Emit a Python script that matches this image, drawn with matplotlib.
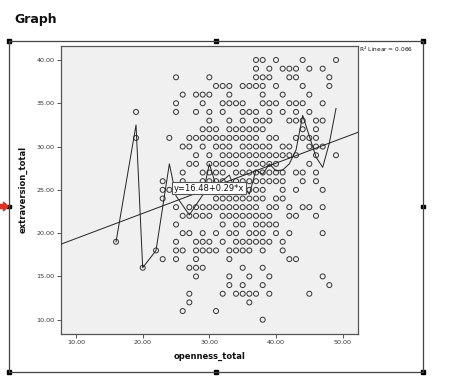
import matplotlib
matplotlib.use("Agg")
import matplotlib.pyplot as plt
from matplotlib.patches import Rectangle, Polygon

# ---- data: openness values observed at each extraversion level ----
e40 = [37, 38, 40, 44, 49]
e39 = [37, 39, 41, 42, 43, 45, 47]
e38 = [25, 30, 37, 38, 39, 42, 43, 48]
e37 = [31, 32, 33, 35, 36, 37, 38, 40, 44, 48]
e36 = [26, 28, 29, 30, 33, 38, 41, 45]
e35 = [25, 29, 32, 33, 34, 35, 38, 39, 40, 42, 43, 44, 47]
e34 = [19, 25, 28, 30, 32, 35, 36, 37, 39, 41, 43, 45]
e33 = [30, 33, 35, 37, 38, 39, 42, 43, 44, 46, 47]
e32 = [29, 30, 31, 33, 34, 35, 36, 37, 38, 44, 46]
e31 = [19, 24, 27, 28, 29, 30, 31, 32, 33, 34, 35, 36, 37, 39, 40, 43, 44, 45, 46]
e30 = [26, 27, 29, 31, 32, 33, 35, 36, 37, 38, 39, 41, 42, 45, 46, 47]
e29 = [28, 30, 32, 33, 34, 35, 36, 37, 38, 39, 40, 41, 42, 43, 46, 49]
e28 = [27, 28, 30, 31, 32, 33, 34, 36, 37, 38, 39, 40, 45]
e27 = [26, 29, 30, 31, 32, 34, 35, 36, 37, 38, 39, 40, 41, 43, 44, 46]
e26 = [23, 26, 29, 30, 31, 32, 34, 35, 36, 37, 38, 39, 40, 41, 44, 46]
e25 = [23, 24, 26, 28, 30, 32, 34, 36, 37, 38, 41, 43, 47]
e24 = [23, 31, 32, 33, 34, 35, 36, 37, 38, 40, 41]
e23 = [25, 27, 28, 29, 30, 31, 32, 33, 34, 35, 36, 37, 39, 40, 42, 44, 45, 47]
e22 = [26, 27, 28, 29, 30, 32, 33, 34, 35, 36, 37, 38, 39, 42, 43, 46]
e21 = [25, 32, 34, 35, 37, 38, 39, 40]
e20 = [26, 27, 29, 31, 33, 34, 36, 37, 38, 40, 42, 47]
e19 = [16, 25, 28, 29, 30, 32, 34, 35, 36, 37, 38, 39, 41]
e18 = [22, 25, 26, 28, 29, 30, 31, 33, 34, 35, 36, 38, 41]
e17 = [23, 25, 28, 33, 42, 43]
e16 = [20, 27, 28, 29, 35, 38]
e15 = [28, 33, 36, 39, 47]
e14 = [33, 35, 38, 48]
e13 = [27, 32, 34, 35, 36, 37, 39, 45]
e12 = [27, 36]
e11 = [26, 31]
e10 = [38]

rows = {40: e40, 39: e39, 38: e38, 37: e37, 36: e36, 35: e35, 34: e34, 33: e33,
        32: e32, 31: e31, 30: e30, 29: e29, 28: e28, 27: e27, 26: e26, 25: e25,
        24: e24, 23: e23, 22: e22, 21: e21, 20: e20, 19: e19, 18: e18, 17: e17,
        16: e16, 15: e15, 14: e14, 13: e13, 12: e12, 11: e11, 10: e10}
openness = [x for lvl, xs in rows.items() for x in xs]
extraversion = [lvl for lvl, xs in rows.items() for x in xs]

# interpolation (subgroup) line
fit_x = [16, 19, 20, 22, 24, 25, 27, 29, 30, 31, 33, 34, 35, 36, 37, 38, 39, 40, 41, 42, 43, 44, 46, 47, 48, 49]
fit_y = [19, 32.5, 16, 18, 28, 24.3, 22.1, 24.4, 28, 25.5, 26.7, 24.8, 25.5, 24.5, 27.3, 26.8, 28.0, 27.2, 27.3, 28.0, 29.6, 33.6, 28.8, 27.6, 30.4, 34.4]

intercept = 16.48
slope = 0.29
r2_text = "R$^2$ Linear = 0.066"
eq_text = "y=16.48+0.29*x"
x_ticks = [10, 20, 30, 40, 50]
y_ticks = [10, 15, 20, 25, 30, 35, 40]

W, H = 453, 391
fig = plt.figure(figsize=(W / 100, H / 100), dpi=100)
fig.patch.set_facecolor("white")

# overlay in pixel coordinates for frame decorations
ov = fig.add_axes([0, 0, 1, 1])
ov.set_xlim(0, W)
ov.set_ylim(H, 0)
ov.axis("off")
ov.text(14, 19, "Graph", fontsize=9, fontweight="bold", va="center", ha="left", color="#111111")
fc = "#444444"
ov.plot([9, 423, 423, 9, 9], [41, 41, 372, 372, 41], color=fc, lw=0.9)
for hx, hy in [(9, 41), (216, 41), (423, 41), (9, 206.5), (423, 206.5), (9, 372), (216, 372), (423, 372)]:
    ov.add_patch(Rectangle((hx - 1.7, hy - 1.7), 3.4, 3.4, color="black"))
ov.add_patch(Polygon([[0, 204.5], [3.5, 204.5], [3.5, 202], [8, 206.5], [3.5, 211], [3.5, 208.5], [0, 208.5]],
                     closed=True, color="#e03020"))
ov.text(359, 49.5, r2_text, fontsize=4.2, ha="left", va="center", color="#111111")

ax = fig.add_axes([60.7 / W, 1 - 334 / H, (358 - 60.7) / W, (334 - 45.7) / H])
ax.set_facecolor("#f0f0f0")
ax.set_xlim(7.7, 52.3)
ax.set_ylim(8.35, 41.65)
for s in ax.spines.values():
    s.set_color("#555555")
    s.set_linewidth(0.9)

ax.scatter(openness, extraversion, s=13, facecolors="none", edgecolors="#333333", linewidths=0.7, zorder=3)

xl = list(ax.get_xlim())
ax.plot(xl, [intercept + slope * v for v in xl], color="#222222", lw=0.7, zorder=4)
ax.plot(fit_x, fit_y, color="#222222", lw=0.7, zorder=4)

ax.text(29.9, 25.2, eq_text, fontsize=6, ha="center", va="center", color="#111111", zorder=6,
        bbox=dict(boxstyle="square,pad=0.2", fc="white", ec="#555555", lw=0.8))

ax.set_xticks(x_ticks)
ax.set_xticklabels([f"{v:.2f}" for v in x_ticks])
ax.set_yticks(y_ticks)
ax.set_yticklabels([f"{v:.2f}" for v in y_ticks])
ax.tick_params(axis="both", direction="out", length=3, width=0.7, color="#555555",
               labelsize=4.6, labelcolor="#333333", pad=1.5)
ax.set_xlabel("openness_total", fontsize=6, fontweight="bold", labelpad=5, color="#111111")
ax.set_ylabel("extraversion_total", fontsize=6, fontweight="bold", labelpad=6, color="#111111")

fig.savefig("out.png", dpi=100)
